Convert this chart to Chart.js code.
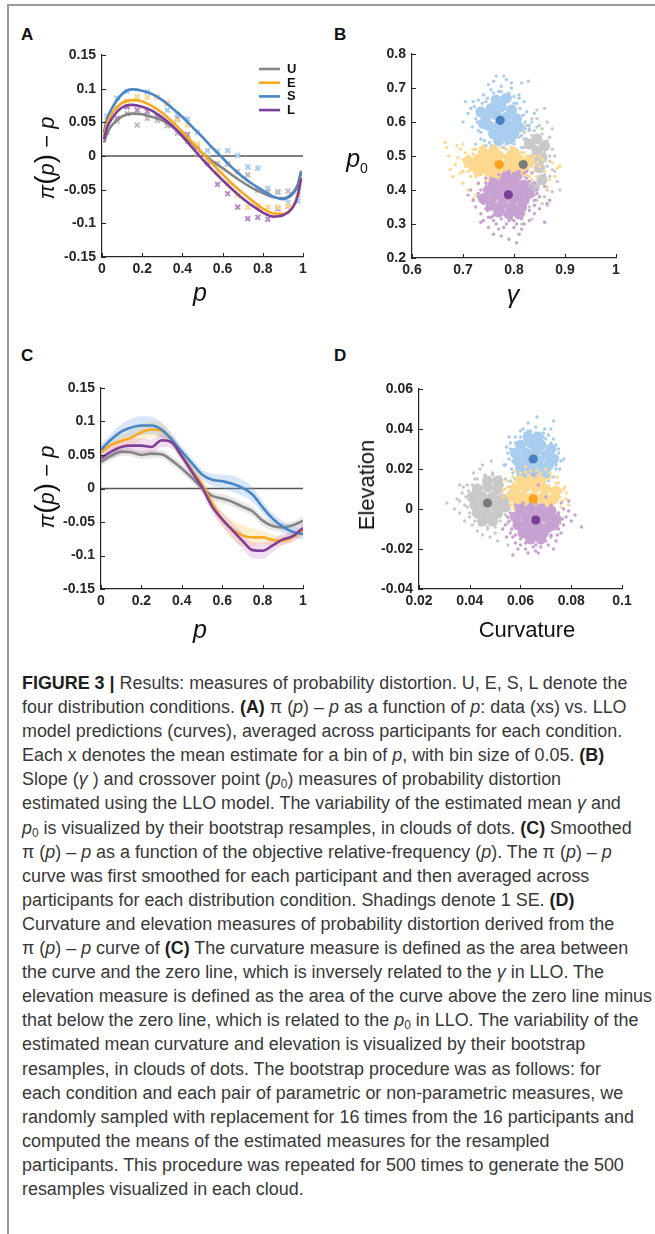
<!DOCTYPE html>
<html>
<head>
<meta charset="utf-8">
<script src="https://cdn.jsdelivr.net/npm/chart.js@4.4.1/dist/chart.umd.min.js"></script>
<style>
  body { margin: 0; width: 655px; height: 1234px; background: #fff; position: relative; overflow: hidden;
         font-family: "Liberation Sans", Arial, sans-serif; color: #222; }
  .frame-v { position: absolute; left: 7px; top: 5px; width: 2px; height: 1229px; background: #9a9a9a; }
  .frame-h { position: absolute; left: 7px; top: 4px; width: 648px; height: 2px; background: #9a9a9a; }
  canvas { position: absolute; }
  .lbl { position: absolute; white-space: nowrap; }
  .panel { font-weight: bold; font-size: 17px; color: #111; }
  .ttl { font-size: 22px; color: #111; }
  .rot { transform: translate(-50%, -50%) rotate(-90deg); }
  .ctr { transform: translate(-50%, -50%); }
  #caption { position: absolute; left: 22px; top: 671px; font-family: "Liberation Sans", Arial, sans-serif;
             font-size: 18px; line-height: 24.1px; color: #383838; white-space: nowrap; transform-origin: 0 0; }
  #caption b { color: #1e1e1e; }
  #caption sub { font-size: 12px; vertical-align: -3px; line-height: 0; }
</style>
</head>
<body>
<div class="frame-h"></div>
<div class="frame-v"></div>

<div class="lbl panel" style="left:21px;top:25px">A</div>
<div class="lbl panel" style="left:334px;top:25px">B</div>
<div class="lbl panel" style="left:21px;top:346px">C</div>
<div class="lbl panel" style="left:334px;top:346px">D</div>

<canvas id="chartA" width="320" height="290" style="left:0;top:30px"></canvas>
<canvas id="chartB" width="310" height="290" style="left:330px;top:30px"></canvas>
<canvas id="chartC" width="320" height="290" style="left:0;top:360px"></canvas>
<canvas id="chartD" width="310" height="290" style="left:330px;top:360px"></canvas>

<div class="lbl ttl rot" style="left:45px;top:158px"><i>π</i><span style="font-size:28px">(</span><i>p</i><span style="font-size:28px">)</span> − <i>p</i></div>
<div class="lbl ttl ctr" style="left:200px;top:292px;font-size:25px"><i>p</i></div>
<div class="lbl ttl ctr" style="left:357px;top:160px;font-size:25px"><i>p</i><sub style="font-size:14px">0</sub></div>
<div class="lbl ttl ctr" style="left:513px;top:294px;font-size:25px"><i>γ</i></div>
<div class="lbl ttl rot" style="left:45px;top:487px"><i>π</i><span style="font-size:28px">(</span><i>p</i><span style="font-size:28px">)</span> − <i>p</i></div>
<div class="lbl ttl ctr" style="left:200px;top:629px;font-size:25px"><i>p</i></div>
<div class="lbl ttl rot" style="left:367px;top:485px">Elevation</div>
<div class="lbl ttl ctr" style="left:527px;top:630px">Curvature</div>

<div id="caption">
<span class="capLine" data-w="620"><b>FIGURE 3 |</b> Results: measures of probability distortion. U, E, S, L denote the</span><br>
four distribution conditions. <b>(A)</b> π (<i>p</i>) – <i>p</i> as a function of <i>p</i>: data (xs) vs. LLO<br>
model predictions (curves), averaged across participants for each condition.<br>
Each x denotes the mean estimate for a bin of <i>p</i>, with bin size of 0.05. <b>(B)</b><br>
Slope (<i>γ</i> ) and crossover point (<i>p</i><sub>0</sub>) measures of probability distortion<br>
estimated using the LLO model. The variability of the estimated mean <i>γ</i> and<br>
<span class="capLine" data-w="627"><i>p</i><sub>0</sub> is visualized by their bootstrap resamples, in clouds of dots. <b>(C)</b> Smoothed</span><br>
π (<i>p</i>) – <i>p</i> as a function of the objective relative-frequency (<i>p</i>). The π (<i>p</i>) – <i>p</i><br>
curve was first smoothed for each participant and then averaged across<br>
participants for each distribution condition. Shadings denote 1 SE. <b>(D)</b><br>
Curvature and elevation measures of probability distortion derived from the<br>
π (<i>p</i>) – <i>p</i> curve of <b>(C)</b> The curvature measure is defined as the area between<br>
the curve and the zero line, which is inversely related to the <i>γ</i> in LLO. The<br>
<span class="capLine" data-w="630">elevation measure is defined as the area of the curve above the zero line minus</span><br>
<span class="capLine" data-w="628">that below the zero line, which is related to the <i>p</i><sub>0</sub> in LLO. The variability of the</span><br>
estimated mean curvature and elevation is visualized by their bootstrap<br>
resamples, in clouds of dots. The bootstrap procedure was as follows: for<br>
each condition and each pair of parametric or non-parametric measures, we<br>
randomly sampled with replacement for 16 times from the 16 participants and<br>
computed the means of the estimated measures for the resampled<br>
participants. This procedure was repeated for 500 times to generate the 500<br>
resamples visualized in each cloud.
</div>

<script>
// ========== DATA ==========
const conditions = ['U', 'E', 'S', 'L'];

// Panel A: LLO model curves and binned data (xs)
const pA = [0.01, 0.025, 0.05, 0.1, 0.15, 0.2, 0.25, 0.3, 0.35, 0.4, 0.45, 0.5, 0.55, 0.6, 0.65, 0.7, 0.75, 0.8, 0.85, 0.9, 0.95, 0.975, 0.99];
const fitU = [0.02, 0.033, 0.046, 0.059, 0.063, 0.062, 0.058, 0.053, 0.043, 0.031, 0.018, 0.004, -0.008, -0.018, -0.029, -0.039, -0.048, -0.055, -0.061, -0.063, -0.054, -0.042, -0.022];
const fitE = [0.03, 0.048, 0.063, 0.079, 0.083, 0.081, 0.074, 0.064, 0.051, 0.036, 0.02, 0.004, -0.012, -0.027, -0.042, -0.055, -0.067, -0.078, -0.085, -0.086, -0.075, -0.058, -0.032];
const fitS = [0.035, 0.055, 0.071, 0.092, 0.099, 0.097, 0.092, 0.083, 0.071, 0.058, 0.043, 0.028, 0.012, -0.003, -0.018, -0.031, -0.042, -0.051, -0.06, -0.064, -0.056, -0.043, -0.025];
const fitL = [0.025, 0.042, 0.056, 0.072, 0.076, 0.073, 0.067, 0.057, 0.045, 0.029, 0.012, -0.005, -0.021, -0.036, -0.05, -0.063, -0.074, -0.084, -0.09, -0.088, -0.076, -0.058, -0.033];

const binsA = [0.025, 0.075, 0.125, 0.175, 0.225, 0.275, 0.325, 0.375, 0.425, 0.475, 0.525, 0.575, 0.625, 0.675, 0.725, 0.775, 0.825, 0.875, 0.925, 0.975];
const datU = [0.035, 0.052, 0.063, 0.046, 0.056, 0.053, 0.045, 0.034, 0.022, 0.004, -0.002, -0.011, -0.012, -0.023, -0.028, -0.051, -0.053, -0.053, -0.052, -0.048];
const datE = [0.054, 0.071, 0.081, 0.088, 0.087, 0.087, 0.078, 0.053, 0.046, 0.018, -0.006, -0.025, -0.041, -0.059, -0.076, -0.074, -0.076, -0.076, -0.074, -0.058];
const datS = [0.059, 0.086, 0.096, 0.088, 0.095, 0.088, 0.068, 0.062, 0.055, 0.035, 0.008, 0.007, 0.008, 0.001, -0.016, -0.018, -0.048, -0.054, -0.069, -0.067];
const datL = [0.048, 0.056, 0.073, 0.068, 0.066, 0.059, 0.078, 0.056, 0.032, 0.014, -0.01, -0.042, -0.056, -0.076, -0.093, -0.091, -0.094, -0.078, -0.075, -0.058];

// Panel C: smoothed curves and 1 SE
const pC = [0, 0.05, 0.1, 0.15, 0.2, 0.25, 0.3, 0.35, 0.4, 0.45, 0.5, 0.55, 0.6, 0.65, 0.7, 0.75, 0.8, 0.85, 0.9, 0.95, 1];
const smU = [0.040, 0.049, 0.055, 0.054, 0.050, 0.052, 0.051, 0.042, 0.030, 0.016, 0.001, -0.011, -0.015, -0.020, -0.027, -0.034, -0.048, -0.056, -0.058, -0.055, -0.048];
const smE = [0.055, 0.065, 0.071, 0.076, 0.084, 0.088, 0.086, 0.072, 0.049, 0.027, 0.006, -0.022, -0.046, -0.061, -0.070, -0.073, -0.073, -0.077, -0.078, -0.072, -0.062];
const smS = [0.058, 0.073, 0.085, 0.091, 0.094, 0.094, 0.088, 0.073, 0.055, 0.038, 0.021, 0.013, 0.011, 0.007, 0.001, -0.009, -0.028, -0.045, -0.057, -0.065, -0.068];
const smL = [0.045, 0.055, 0.062, 0.064, 0.064, 0.062, 0.072, 0.069, 0.048, 0.025, 0.002, -0.027, -0.046, -0.062, -0.078, -0.092, -0.093, -0.085, -0.076, -0.071, -0.059];
const seU = [0.006, 0.006, 0.006, 0.006, 0.006, 0.006, 0.006, 0.007, 0.007, 0.007, 0.007, 0.007, 0.007, 0.007, 0.007, 0.007, 0.007, 0.007, 0.006, 0.006, 0.007];
const seE = [0.008, 0.008, 0.009, 0.011, 0.012, 0.012, 0.011, 0.009, 0.008, 0.008, 0.008, 0.009, 0.011, 0.014, 0.016, 0.014, 0.010, 0.008, 0.007, 0.007, 0.008];
const seS = [0.008, 0.009, 0.011, 0.013, 0.014, 0.013, 0.011, 0.009, 0.008, 0.008, 0.008, 0.009, 0.010, 0.012, 0.012, 0.011, 0.009, 0.008, 0.008, 0.008, 0.009];
const seL = [0.009, 0.010, 0.011, 0.011, 0.011, 0.011, 0.010, 0.009, 0.008, 0.008, 0.008, 0.009, 0.010, 0.011, 0.012, 0.012, 0.012, 0.010, 0.008, 0.008, 0.009];

// Panel B: bootstrap means of (gamma, p0) and resample clouds
const meanB = { U: [0.818, 0.475], E: [0.771, 0.475], S: [0.773, 0.605], L: [0.789, 0.386] };
const coreBU = [[0.83,0.535],[0.845,0.55],[0.845,0.515],[0.86,0.53],[0.855,0.495],[0.85,0.465],[0.855,0.43],[0.84,0.41],[0.835,0.49]];
const dotsBU = [[0.82,0.57],[0.84,0.575],[0.855,0.565],[0.87,0.555],[0.865,0.545],[0.875,0.52],[0.88,0.50],[0.87,0.485],[0.88,0.455],[0.885,0.425],[0.89,0.40],[0.87,0.44],[0.865,0.40],[0.86,0.38],[0.855,0.36],[0.865,0.355],[0.84,0.385],[0.83,0.35],[0.82,0.33],[0.81,0.36],[0.835,0.61],[0.845,0.635],[0.825,0.59],[0.86,0.64],[0.81,0.555],[0.80,0.52],[0.795,0.44],[0.79,0.41],[0.875,0.58],[0.85,0.59],[0.835,0.315],[0.815,0.30],
  [0.825,0.55],[0.835,0.56],[0.85,0.545],[0.86,0.51],[0.865,0.47],[0.86,0.445],[0.85,0.42],[0.83,0.395],[0.845,0.37],[0.82,0.44],[0.875,0.46],[0.87,0.50],[0.84,0.53],[0.82,0.525],[0.855,0.58],[0.83,0.58],[0.865,0.6],[0.845,0.61],[0.825,0.37],[0.875,0.395]];
const coreBE = [[0.73,0.49],[0.75,0.495],[0.77,0.50],[0.79,0.495],[0.81,0.49],[0.83,0.485],[0.72,0.47],[0.74,0.475],[0.76,0.475],[0.78,0.47],[0.80,0.47],[0.82,0.465],[0.73,0.455],[0.75,0.455],[0.77,0.45],[0.79,0.45],[0.81,0.45],[0.76,0.435],[0.78,0.43],[0.74,0.51],[0.76,0.515],[0.80,0.51],[0.71,0.485]];
const dotsBE = [[0.665,0.54],[0.668,0.525],[0.672,0.50],[0.675,0.46],[0.68,0.44],[0.688,0.53],[0.69,0.495],[0.695,0.45],[0.70,0.42],[0.705,0.51],[0.70,0.535],[0.71,0.40],[0.715,0.44],[0.72,0.52],[0.725,0.385],[0.73,0.42],[0.74,0.53],[0.72,0.375],[0.75,0.40],[0.785,0.52],[0.82,0.51],[0.84,0.50],[0.85,0.47],[0.855,0.49],[0.86,0.455],[0.845,0.44],[0.87,0.43],[0.875,0.48],[0.885,0.465],[0.89,0.47],[0.88,0.44],[0.865,0.41],[0.835,0.43],[0.685,0.475],[0.695,0.52],[0.80,0.43],[0.825,0.445],[0.76,0.53],[0.71,0.455],[0.745,0.435],
  [0.70,0.49],[0.705,0.47],[0.71,0.50],[0.715,0.46],[0.72,0.505],[0.725,0.44],[0.735,0.525],[0.745,0.425],[0.755,0.525],[0.765,0.42],[0.775,0.525],[0.79,0.42],[0.795,0.525],[0.81,0.43],[0.815,0.51],[0.825,0.50],[0.835,0.47],[0.84,0.455],[0.845,0.48],[0.83,0.44],[0.70,0.455],[0.725,0.52],[0.85,0.50],[0.76,0.41],[0.81,0.415]];
const coreBS = [[0.755,0.64],[0.775,0.645],[0.795,0.635],[0.745,0.615],[0.765,0.62],[0.785,0.615],[0.805,0.61],[0.75,0.59],[0.77,0.59],[0.79,0.59],[0.81,0.585],[0.76,0.565],[0.78,0.565],[0.80,0.565],[0.77,0.545],[0.79,0.55],[0.765,0.665],[0.785,0.67],[0.74,0.595],[0.735,0.63]];
const dotsBS = [[0.72,0.66],[0.715,0.64],[0.725,0.61],[0.73,0.575],[0.735,0.55],[0.745,0.53],[0.76,0.52],[0.78,0.525],[0.80,0.535],[0.82,0.55],[0.83,0.575],[0.835,0.60],[0.825,0.63],[0.82,0.66],[0.81,0.68],[0.795,0.70],[0.775,0.705],[0.755,0.695],[0.74,0.68],[0.73,0.665],[0.78,0.735],[0.785,0.725],[0.76,0.72],[0.795,0.715],[0.828,0.72],[0.815,0.715],[0.705,0.66],[0.71,0.625],[0.70,0.60],[0.718,0.585],[0.745,0.505],[0.79,0.51],[0.815,0.525],[0.84,0.625],[0.845,0.585],[0.75,0.71],[0.77,0.69],[0.80,0.655],[0.725,0.535],[0.765,0.735],
  [0.722,0.645],[0.728,0.60],[0.73,0.62],[0.735,0.57],[0.742,0.545],[0.752,0.54],[0.765,0.535],[0.785,0.535],[0.80,0.545],[0.815,0.56],[0.822,0.58],[0.822,0.60],[0.818,0.62],[0.812,0.64],[0.805,0.655],[0.80,0.675],[0.79,0.685],[0.775,0.69],[0.76,0.685],[0.748,0.67],[0.738,0.655],[0.745,0.66],[0.83,0.59],[0.81,0.67],[0.755,0.53]];
const coreBL = [[0.76,0.42],[0.78,0.425],[0.80,0.42],[0.82,0.415],[0.75,0.40],[0.77,0.40],[0.79,0.40],[0.81,0.395],[0.83,0.39],[0.76,0.38],[0.78,0.375],[0.80,0.375],[0.82,0.37],[0.755,0.355],[0.775,0.355],[0.795,0.35],[0.815,0.35],[0.77,0.335],[0.79,0.33],[0.81,0.33],[0.785,0.44],[0.805,0.44],[0.74,0.375]];
const dotsBL = [[0.715,0.40],[0.72,0.37],[0.725,0.35],[0.73,0.39],[0.735,0.33],[0.74,0.31],[0.745,0.345],[0.75,0.29],[0.755,0.32],[0.76,0.27],[0.765,0.30],[0.775,0.265],[0.78,0.29],[0.79,0.31],[0.80,0.29],[0.805,0.245],[0.81,0.27],[0.82,0.30],[0.83,0.31],[0.84,0.33],[0.85,0.345],[0.86,0.305],[0.865,0.36],[0.85,0.38],[0.845,0.40],[0.84,0.42],[0.86,0.41],[0.835,0.45],[0.825,0.455],[0.73,0.42],[0.745,0.435],[0.79,0.255],[0.815,0.285],[0.77,0.285],[0.71,0.385],[0.87,0.37],[0.80,0.31],[0.735,0.305],
  [0.735,0.40],[0.74,0.36],[0.745,0.42],[0.748,0.34],[0.755,0.435],[0.76,0.325],[0.77,0.445],[0.775,0.315],[0.79,0.455],[0.795,0.315],[0.81,0.455],[0.815,0.315],[0.825,0.435],[0.83,0.34],[0.835,0.41],[0.84,0.37],[0.84,0.355],[0.82,0.45],[0.76,0.31],[0.805,0.30],[0.73,0.38],[0.845,0.39],[0.785,0.30],[0.83,0.425],[0.75,0.32]];

// Panel D: bootstrap means of (curvature, elevation) and resample clouds
const meanD = { U: [0.047, 0.003], E: [0.065, 0.005], S: [0.065, 0.025], L: [0.066, -0.0055] };
const coreDU = [[0.043,0.010],[0.047,0.011],[0.051,0.010],[0.041,0.006],[0.045,0.006],[0.049,0.006],[0.053,0.005],[0.042,0.002],[0.046,0.002],[0.050,0.002],[0.054,0.001],[0.043,-0.002],[0.047,-0.002],[0.051,-0.002],[0.045,-0.006],[0.049,-0.006],[0.047,0.014],[0.051,0.014]];
const dotsDU = [[0.031,0.003],[0.034,0.000],[0.035,0.005],[0.036,-0.002],[0.037,0.008],[0.038,0.002],[0.039,0.012],[0.040,-0.004],[0.041,-0.008],[0.042,0.015],[0.043,-0.011],[0.045,-0.013],[0.046,0.017],[0.047,-0.010],[0.049,0.018],[0.050,-0.012],[0.052,0.016],[0.053,-0.010],[0.055,-0.007],[0.056,0.011],[0.057,0.007],[0.058,-0.003],[0.0485,0.024],[0.055,-0.018],[0.038,-0.006],[0.044,0.020],[0.051,-0.016],[0.036,0.012],
  [0.0385,0.006],[0.039,0.001],[0.0395,0.009],[0.040,-0.002],[0.041,0.012],[0.042,-0.006],[0.043,0.015],[0.044,-0.008],[0.046,0.016],[0.047,-0.009],[0.049,0.017],[0.050,-0.009],[0.052,-0.006],[0.053,0.012],[0.054,-0.003],[0.055,0.004],[0.0555,0.008],[0.0555,0.000],[0.054,0.015],[0.0375,0.011],[0.036,0.004],[0.045,0.022],[0.0415,0.018],[0.048,-0.014],[0.0565,-0.01]];
const coreDE = [[0.058,0.010],[0.062,0.011],[0.066,0.011],[0.070,0.010],[0.074,0.009],[0.057,0.006],[0.061,0.006],[0.065,0.006],[0.069,0.006],[0.073,0.005],[0.059,0.002],[0.063,0.002],[0.067,0.002],[0.071,0.002],[0.064,0.014],[0.068,0.014],[0.060,0.014]];
const dotsDE = [[0.053,0.006],[0.054,0.010],[0.055,0.014],[0.056,0.002],[0.057,0.016],[0.060,0.018],[0.064,0.019],[0.068,0.018],[0.072,0.016],[0.075,0.013],[0.077,0.010],[0.078,0.005],[0.079,0.002],[0.076,0.001],[0.075,-0.002],[0.073,-0.004],[0.058,-0.002],[0.055,-0.004],[0.056,0.009],[0.070,0.020],[0.078,0.008],[0.062,0.021],
  [0.0545,0.007],[0.055,0.011],[0.056,0.004],[0.057,0.013],[0.0575,0.000],[0.059,0.016],[0.061,0.0],[0.063,0.017],[0.065,-0.001],[0.067,0.017],[0.069,-0.001],[0.071,0.015],[0.073,0.001],[0.074,0.013],[0.0755,0.006],[0.076,0.009],[0.0765,0.004],[0.062,0.0185],[0.0665,0.0195],[0.0715,0.018],[0.053,0.009],[0.058,0.019],[0.0745,0.016],[0.0605,-0.003],[0.0775,0.011]];
const coreDS = [[0.060,0.032],[0.064,0.033],[0.068,0.032],[0.072,0.030],[0.058,0.028],[0.062,0.028],[0.066,0.029],[0.070,0.027],[0.073,0.025],[0.059,0.024],[0.063,0.024],[0.067,0.024],[0.071,0.022],[0.060,0.020],[0.064,0.020],[0.068,0.020],[0.062,0.016],[0.066,0.016],[0.063,0.036],[0.067,0.036],[0.070,0.018]];
const dotsDS = [[0.054,0.022],[0.055,0.028],[0.056,0.033],[0.057,0.018],[0.058,0.036],[0.060,0.039],[0.061,0.040],[0.064,0.039],[0.066,0.041],[0.069,0.038],[0.071,0.037],[0.073,0.035],[0.074,0.032],[0.075,0.028],[0.076,0.024],[0.077,0.025],[0.074,0.020],[0.073,0.016],[0.071,0.014],[0.068,0.013],[0.064,0.012],[0.060,0.013],[0.058,0.015],[0.056,0.014],[0.0535,0.022],[0.0665,0.046],[0.073,0.044],[0.0555,0.036],[0.072,0.040],[0.063,0.043],
  [0.0555,0.025],[0.056,0.030],[0.0565,0.020],[0.058,0.033],[0.059,0.017],[0.060,0.036],[0.061,0.014],[0.063,0.039],[0.065,0.0135],[0.066,0.038],[0.068,0.016],[0.069,0.036],[0.071,0.019],[0.072,0.033],[0.074,0.022],[0.075,0.030],[0.0745,0.026],[0.062,0.038],[0.070,0.035],[0.067,0.0125],[0.057,0.024],[0.0755,0.020],[0.0625,0.0115],[0.0695,0.040],[0.0545,0.031]];
const coreDL = [[0.060,0.000],[0.064,0.000],[0.068,0.000],[0.072,-0.001],[0.058,-0.004],[0.062,-0.004],[0.066,-0.004],[0.070,-0.004],[0.074,-0.005],[0.059,-0.008],[0.063,-0.008],[0.067,-0.008],[0.071,-0.009],[0.061,-0.012],[0.065,-0.012],[0.069,-0.012],[0.064,-0.015],[0.068,-0.015],[0.073,-0.008]];
const dotsDL = [[0.054,-0.008],[0.055,-0.004],[0.056,-0.012],[0.057,-0.014],[0.058,-0.017],[0.060,-0.018],[0.062,-0.020],[0.065,-0.019],[0.068,-0.019],[0.071,-0.018],[0.073,-0.020],[0.074,-0.016],[0.076,-0.012],[0.077,-0.008],[0.078,-0.004],[0.079,-0.001],[0.080,-0.006],[0.084,-0.009],[0.079,0.004],[0.076,0.003],[0.057,-0.023],[0.063,-0.022],[0.066,-0.021],[0.070,0.006],[0.067,0.012],[0.065,0.017],[0.053,-0.010],[0.072,-0.014],
  [0.0555,-0.006],[0.056,-0.002],[0.0565,-0.010],[0.058,0.002],[0.058,-0.013],[0.060,-0.015],[0.061,0.003],[0.062,-0.017],[0.064,0.003],[0.066,-0.018],[0.066,0.003],[0.069,0.002],[0.070,-0.016],[0.072,0.002],[0.072,-0.013],[0.075,-0.002],[0.0755,-0.007],[0.075,-0.010],[0.0765,-0.005],[0.059,-0.020],[0.067,-0.022],[0.0745,-0.013],[0.077,0.000],[0.0545,-0.014],[0.0815,-0.003]];

// Tick values
const xTicksA = [0, 0.2, 0.4, 0.6, 0.8, 1];
const yTicksA = [-0.15, -0.1, -0.05, 0, 0.05, 0.1, 0.15];
const xTicksB = [0.6, 0.7, 0.8, 0.9, 1];
const yTicksB = [0.2, 0.3, 0.4, 0.5, 0.6, 0.7, 0.8];
const xTicksD = [0.02, 0.04, 0.06, 0.08, 0.1];
const yTicksD = [-0.04, -0.02, 0, 0.02, 0.04, 0.06];

// ========== STYLE ==========
const lineColor = { U: '#858585', E: '#f9a825', S: '#4a86c6', L: '#7e3f98' };
const lightColor = { U: '#c9c9c9', E: '#fcd98f', S: '#a9cdee', L: '#c6a1d1' };
const markColor = { U: '#bdbdbd', E: '#fcd98f', S: '#a9cdee', L: '#b78cc6' };
const dotColor = { U: '#7a7a7a', E: '#f7a21b', S: '#4a7fc1', L: '#7b3e96' };
const bandColor = { U: 'rgba(150,150,150,0.22)', E: 'rgba(250,205,100,0.30)', S: 'rgba(110,170,225,0.28)', L: 'rgba(205,120,200,0.25)' };

Chart.defaults.font.family = '"Liberation Sans", Arial, sans-serif';
Chart.defaults.color = '#262626';

const xy = (xs, ys) => xs.map((x, i) => ({ x, y: ys[i] }));
const pairs = arr => arr.map(([x, y]) => ({ x, y }));

// inward MATLAB-style tick marks
const inwardTicks = {
  id: 'inwardTicks',
  afterDraw(chart) {
    const { ctx, chartArea: a, scales: { x, y } } = chart;
    ctx.save();
    ctx.strokeStyle = '#262626';
    ctx.lineWidth = 1;
    x.ticks.forEach(t => {
      const px = Math.round(x.getPixelForValue(t.value)) + 0.5;
      ctx.beginPath(); ctx.moveTo(px, a.bottom); ctx.lineTo(px, a.bottom - 4); ctx.stroke();
    });
    y.ticks.forEach(t => {
      const py = Math.round(y.getPixelForValue(t.value)) + 0.5;
      ctx.beginPath(); ctx.moveTo(a.left, py); ctx.lineTo(a.left + 4, py); ctx.stroke();
    });
    ctx.restore();
  }
};

const zeroLine = {
  id: 'zeroLine',
  beforeDatasetsDraw(chart, args, opts) {
    const { ctx, chartArea: a, scales: { y } } = chart;
    const py = y.getPixelForValue(0);
    ctx.save();
    ctx.strokeStyle = opts.color || '#000';
    ctx.lineWidth = opts.width || 1;
    ctx.beginPath(); ctx.moveTo(a.left, py); ctx.lineTo(a.right, py); ctx.stroke();
    ctx.restore();
  }
};

// legend of panel A, drawn inside the plot area
const cornerLegend = {
  id: 'cornerLegend',
  afterDraw(chart) {
    const { ctx, chartArea: a } = chart;
    ctx.save();
    ctx.font = 'bold 13px "Liberation Sans", Arial, sans-serif';
    ctx.textBaseline = 'middle';
    conditions.forEach((c, i) => {
      const yy = a.top + 14 + i * 13.7;
      ctx.strokeStyle = lineColor[c];
      ctx.lineWidth = 2.6;
      ctx.beginPath(); ctx.moveTo(a.right - 44, yy); ctx.lineTo(a.right - 23, yy); ctx.stroke();
      ctx.fillStyle = '#111';
      ctx.fillText(c, a.right - 16, yy + 0.5);
    });
    ctx.restore();
  }
};

function axes(xMin, xMax, xTicks, yMin, yMax, yTicks, yWidth, xHeight) {
  const fmt = v => String(v);
  const tickFont = { size: 14, weight: 'bold' };
  return {
    x: {
      type: 'linear', min: xMin, max: xMax,
      afterBuildTicks: s => { s.ticks = xTicks.map(v => ({ value: v })); },
      afterFit: s => { s.height = xHeight; },
      grid: { display: false, drawTicks: false },
      border: { display: true, color: '#262626', width: 1.2 },
      ticks: { callback: fmt, font: tickFont, padding: 4, maxRotation: 0, autoSkip: false }
    },
    y: {
      type: 'linear', min: yMin, max: yMax,
      afterBuildTicks: s => { s.ticks = yTicks.map(v => ({ value: v })); },
      afterFit: s => { s.width = yWidth; },
      grid: { display: false, drawTicks: false },
      border: { display: true, color: '#262626', width: 1.2 },
      ticks: { callback: fmt, font: tickFont, padding: 6, autoSkip: false }
    }
  };
}

const baseOptions = (padding, scales, extraPlugins) => ({
  responsive: false,
  animation: false,
  layout: { padding },
  scales,
  plugins: Object.assign({ legend: { display: false }, tooltip: { enabled: false } }, extraPlugins || {})
});

// ========== PANEL A ==========
function initPanelA() {
  const fits = { U: fitU, E: fitE, S: fitS, L: fitL };
  const dats = { U: datU, E: datE, S: datS, L: datL };
  const lines = ['L', 'E', 'S', 'U'].map(c => ({
    type: 'line', label: c, data: xy(pA, fits[c]),
    borderColor: lineColor[c], borderWidth: 2.6, pointRadius: 0,
    cubicInterpolationMode: 'monotone', fill: false
  }));
  const marks = conditions.map(c => ({
    type: 'scatter', label: c + ' data', data: xy(binsA, dats[c]),
    pointStyle: 'crossRot', pointRadius: 3.4, borderColor: markColor[c],
    backgroundColor: 'transparent', borderWidth: 2
  }));
  new Chart(document.getElementById('chartA'), {
    type: 'scatter',
    data: { datasets: [...lines, ...marks] },
    options: baseOptions({ top: 25, right: 17, left: 0, bottom: 0 },
      axes(0, 1, xTicksA, -0.15, 0.15, yTicksA, 102, 63),
      { zeroLine: { color: '#000', width: 1 } }),
    plugins: [zeroLine, inwardTicks, cornerLegend]
  });
}

// ========== PANELS B & D (bootstrap clouds) ==========
function cloudDatasets(means, clouds, coreRadius) {
  const centres = ['L', 'E', 'U', 'S'].map(c => ({
    label: c + ' mean', data: [{ x: means[c][0], y: means[c][1] }],
    pointRadius: 4.6, backgroundColor: dotColor[c], borderWidth: 0
  }));
  const order = ['L', 'E', 'S', 'U'];
  const sets = [];
  order.forEach(c => {
    sets.push({ label: c, data: pairs(clouds[c].dots), pointRadius: 1.7, backgroundColor: lightColor[c], borderWidth: 0 });
    sets.push({ label: c + ' core', data: pairs(clouds[c].core), pointRadius: coreRadius, backgroundColor: lightColor[c], borderWidth: 0 });
  });
  return [...centres, ...sets];
}

function initPanelB() {
  const clouds = {
    U: { core: coreBU, dots: dotsBU }, E: { core: coreBE, dots: dotsBE },
    S: { core: coreBS, dots: dotsBS }, L: { core: coreBL, dots: dotsBL }
  };
  new Chart(document.getElementById('chartB'), {
    type: 'scatter',
    data: { datasets: cloudDatasets(meanB, clouds, 5.5) },
    options: baseOptions({ top: 24, right: 24, left: 0, bottom: 0 },
      axes(0.6, 1, xTicksB, 0.2, 0.8, yTicksB, 82, 62)),
    plugins: [inwardTicks]
  });
}

function initPanelD() {
  const clouds = {
    U: { core: coreDU, dots: dotsDU }, E: { core: coreDE, dots: dotsDE },
    S: { core: coreDS, dots: dotsDS }, L: { core: coreDL, dots: dotsDL }
  };
  new Chart(document.getElementById('chartD'), {
    type: 'scatter',
    data: { datasets: cloudDatasets(meanD, clouds, 5.5) },
    options: baseOptions({ top: 29, right: 18, left: 0, bottom: 0 },
      axes(0.02, 0.1, xTicksD, -0.04, 0.06, yTicksD, 89, 61)),
    plugins: [inwardTicks]
  });
}

// ========== PANEL C (smoothed curves with SE bands) ==========
function initPanelC() {
  const means = { U: smU, E: smE, S: smS, L: smL };
  const ses = { U: seU, E: seE, S: seS, L: seL };
  const drawOrder = ['L', 'S', 'E', 'U'];
  const lines = drawOrder.map(c => ({
    type: 'line', label: c, data: xy(pC, means[c]),
    borderColor: lineColor[c], borderWidth: 2.6, pointRadius: 0,
    cubicInterpolationMode: 'monotone', fill: false
  }));
  const bands = [];
  drawOrder.forEach(c => {
    const m = means[c], s = ses[c];
    bands.push({
      type: 'line', label: c + ' +SE', data: xy(pC, m.map((v, i) => v + s[i])),
      borderWidth: 0, pointRadius: 0, cubicInterpolationMode: 'monotone',
      backgroundColor: bandColor[c], fill: '+1'
    });
    bands.push({
      type: 'line', label: c + ' -SE', data: xy(pC, m.map((v, i) => v - s[i])),
      borderWidth: 0, pointRadius: 0, cubicInterpolationMode: 'monotone', fill: false
    });
  });
  new Chart(document.getElementById('chartC'), {
    type: 'scatter',
    data: { datasets: [...lines, ...bands] },
    options: baseOptions({ top: 28, right: 17, left: 0, bottom: 0 },
      axes(0, 1, xTicksA, -0.15, 0.15, yTicksA, 101, 61),
      { zeroLine: { color: '#555', width: 1.5 } }),
    plugins: [zeroLine, inwardTicks]
  });
}

// squeeze the caption so a few reference lines end where they do in the figure
function fitCaption() {
  const cap = document.getElementById('caption');
  const ratios = [...cap.querySelectorAll('.capLine')].map(el => +el.dataset.w / el.getBoundingClientRect().width);
  const s = Math.min(...ratios);
  cap.style.transform = 'scaleX(' + s.toFixed(4) + ')';
}

document.addEventListener('DOMContentLoaded', () => {
  fitCaption();
  initPanelA();
  initPanelB();
  initPanelC();
  initPanelD();
});
</script>
</body>
</html>
